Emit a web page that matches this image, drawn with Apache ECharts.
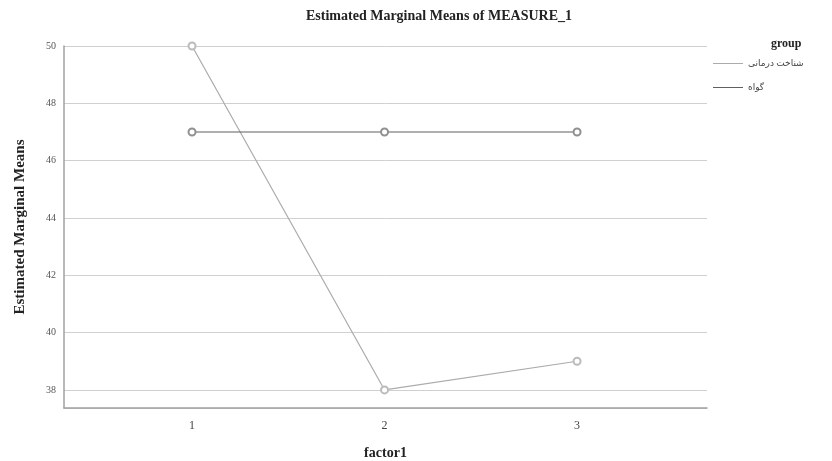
<!DOCTYPE html>
<html>
<head>
<meta charset="utf-8">
<script src="https://cdn.jsdelivr.net/npm/echarts@6/dist/echarts.min.js"></script>
<style>html,body{margin:0;padding:0;background:#fff}#c{width:832px;height:461px}</style>
</head>
<body>
<div id="c"></div>
<script>
var titleText = 'Estimated Marginal Means of MEASURE_1';
var xName = 'factor1';
var yName = 'Estimated Marginal Means';
var legendTitle = 'group';
var categories = [1, 2, 3];
var seriesNames = ['شناخت درمانی', 'گواه'];
var therapyValues = [50, 38, 39];
var controlValues = [47, 47, 47];
var seriesColors = ['#ababab', '#606060'];

function pairs(vals) { return categories.map(function (c, i) { return [c, vals[i]]; }); }

var chart = echarts.init(document.getElementById('c'), null, { renderer: 'canvas' });
var serif = 'Liberation Serif, Times New Roman, serif';
chart.setOption({
  backgroundColor: '#fff',
  animation: false,
  title: [
    { text: titleText, left: 434, top: 4, textAlign: 'center',
      textStyle: { fontFamily: serif, fontWeight: 'bold', fontSize: 14, color: '#222' } },
    { text: legendTitle, left: 766, top: 33,
      textStyle: { fontFamily: serif, fontWeight: 'bold', fontSize: 12, color: '#222' } }
  ],
  legend: {
    orient: 'vertical', left: 708, top: 54, itemGap: 15,
    itemWidth: 30, itemHeight: 1, icon: 'rect',
    textStyle: { fontFamily: 'Noto Sans, DejaVu Sans, sans-serif', fontSize: 9, color: '#444' },
    data: seriesNames.map(function (n, i) { return { name: n, itemStyle: { color: seriesColors[i] } }; })
  },
  grid: { left: 64, right: 125, top: 46, bottom: 53, outerBoundsMode: 'none', containLabel: false },
  xAxis: {
    type: 'value', min: 0.335, max: 3.675, splitNumber: 3,
    name: xName, nameLocation: 'middle', nameGap: 38,
    nameTextStyle: { fontFamily: serif, fontWeight: 'bold', fontSize: 14, color: '#222' },
    axisLine: { lineStyle: { color: '#a0a0a0', width: 1.5 } },
    axisTick: { show: false },
    splitLine: { show: false },
    axisLabel: { fontFamily: serif, fontSize: 12, color: '#444', margin: 12,
      showMinLabel: false, showMaxLabel: false,
      formatter: function (v) { return categories.indexOf(v) >= 0 ? String(v) : ''; } }
  },
  yAxis: {
    type: 'value', min: 37.37, max: 50, splitNumber: 6,
    name: yName, nameLocation: 'middle', nameGap: 36,
    nameTextStyle: { fontFamily: serif, fontWeight: 'bold', fontSize: 15, color: '#222' },
    axisLine: { show: true, lineStyle: { color: '#a0a0a0', width: 1.5 } },
    axisTick: { show: false },
    splitLine: { lineStyle: { color: '#d0d0d0', width: 1 } },
    axisLabel: { fontFamily: serif, fontSize: 10, color: '#555', margin: 8,
      showMinLabel: false,
      formatter: function (v) { return Math.abs(v - Math.round(v)) < 1e-6 && Math.round(v) % 2 === 0 ? String(Math.round(v)) : ''; } }
  },
  series: [
    { name: seriesNames[0], type: 'line', data: pairs(therapyValues), clip: false,
      symbol: 'emptyCircle', symbolSize: 7,
      lineStyle: { color: seriesColors[0], width: 1.2 },
      itemStyle: { color: '#bbbbbb', borderWidth: 0.8 } },
    { name: seriesNames[1], type: 'line', data: pairs(controlValues), clip: false,
      symbol: 'emptyCircle', symbolSize: 7,
      lineStyle: { color: seriesColors[1], width: 1.2 },
      itemStyle: { color: '#909090', borderWidth: 0.8 } }
  ]
});
</script>
</body>
</html>
